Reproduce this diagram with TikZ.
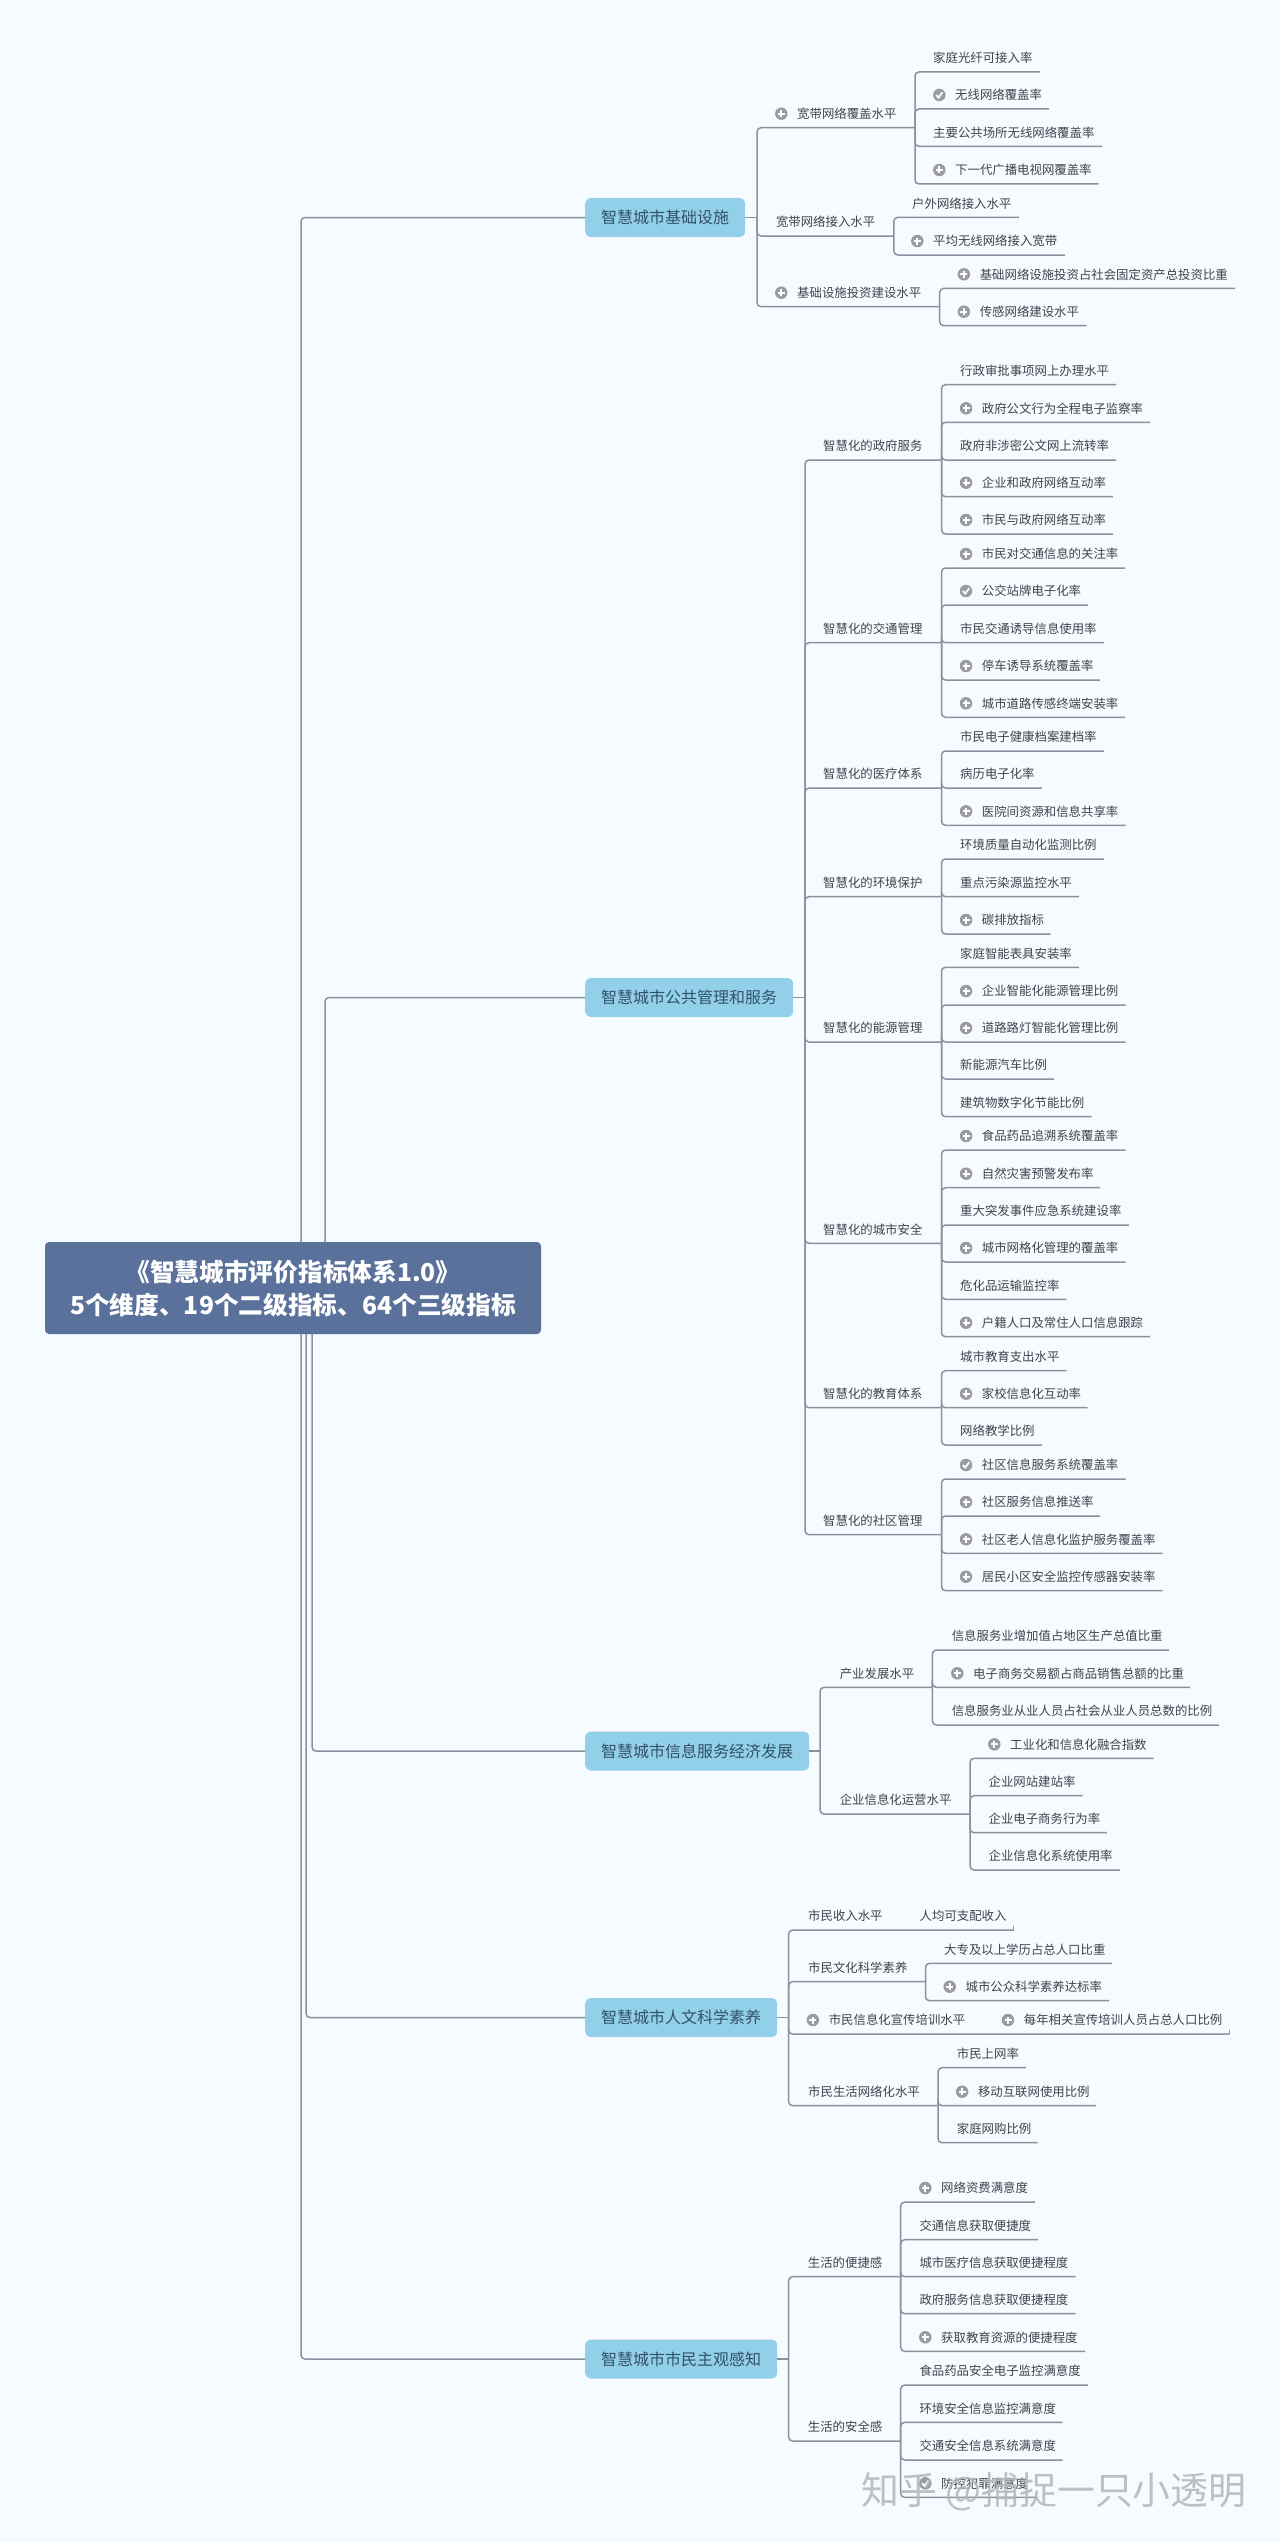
\documentclass[tikz,border=0pt]{standalone}
\usepackage{fontspec}
\setmainfont{Noto Sans CJK SC}
\usepackage{xcolor}
\definecolor{pagecolor}{RGB}{245,251,255}
\definecolor{linecolor}{RGB}{138,146,160}
\definecolor{rootcolor}{RGB}{90,114,155}
\definecolor{topiccolor}{RGB}{146,207,232}
\definecolor{topictext}{RGB}{50,82,105}
\definecolor{itemtext}{RGB}{62,68,76}
\definecolor{iconcolor}{RGB}{155,155,160}
\definecolor{stampcolor}{RGB}{178,182,187}
\tikzset{
  rootbox/.style = {fill=rootcolor, rounded corners=4pt, minimum width=496pt, minimum height=92pt,
                    text=white, align=center, font=\fontsize{24.7}{33}\selectfont\bfseries, inner sep=0pt},
  topic/.style   = {fill=topiccolor, rounded corners=6pt, minimum height=39pt, inner xsep=16pt,
                    inner ysep=0pt, anchor=west, text=topictext, font=\fontsize{16}{18}\selectfont},
  item/.style    = {anchor=west, inner sep=0pt, text=itemtext, font=\fontsize{12.4}{14}\selectfont},
  link/.style    = {draw=linecolor, line width=1.5pt, rounded corners=4pt},
  noic/.style    = {shape=coordinate},
  plusic/.style  = {circle, fill=iconcolor, minimum size=12.5pt, inner sep=0pt, path picture={
                    \draw[white, line width=2pt] (path picture bounding box.center) ++(-3.5pt,0) -- ++(7pt,0)
                    (path picture bounding box.center) ++(0,-3.5pt) -- ++(0,7pt);}},
  checkic/.style = {circle, fill=iconcolor, minimum size=12.5pt, inner sep=0pt, path picture={
                    \draw[white, line width=1.8pt] (path picture bounding box.center) ++(-3.2pt,0) -- ++(2.4pt,-2.6pt) -- ++(4pt,5.4pt);}},
  stamp/.style   = {anchor=west, inner sep=0pt, text=stampcolor, opacity=.85, font=\fontsize{37.9}{40}\selectfont},
}
\begin{document}
\begin{tikzpicture}[x=1pt, y=-1pt]
  \useasboundingbox[fill=pagecolor] (0,0) rectangle (1280,2542);
  \foreach \n/\x/\y/\xb/\lab in {
    t1/301/217.5/757/智慧城市基础设施,
    t2/325/997.5/805/智慧城市公共管理和服务,
    t3/312/1751/820/智慧城市信息服务经济发展,
    t4/306/2017.5/788.6/智慧城市人文科学素养,
    t5/301/2359/788.6/智慧城市市民主观感知} {
    \node[topic] (\n) at (585,\y) {\lab};
    \coordinate (\n-o) at (\x,1288);
    \coordinate (\n-e) at (\xb,\y);
    \draw[link] (\n-o) |- (\n.west);
    \draw[link] (\n.east) -- (\n-e);
  }
  % parent/name/y of line/end of line/text x/icon/text
  \foreach \p/\n/\y/\xe/\xt/\ic/\lab in {
    t1/a1/127.7/915/797/plusic/宽带网络覆盖水平,
    t1/a2/236/893.8/775.8/noic/宽带网络接入水平,
    t1/a3/306.7/939.7/797/plusic/基础设施投资建设水平,
    a1/a11/72/1040/933/noic/家庭光纤可接入率,
    a1/a12/109/1049/955/checkic/无线网络覆盖率,
    a1/a13/146.3/1102/933/noic/主要公共场所无线网络覆盖率,
    a1/a14/184/1098.5/955/plusic/下一代广播电视网覆盖率,
    a2/a21/217.3/1019/912/noic/户外网络接入水平,
    a2/a22/255/1065/933/plusic/平均无线网络接入宽带,
    a3/a31/288.3/1235/979.6/plusic/基础网络设施投资占社会固定资产总投资比重,
    a3/a32/325.7/1086.6/979.6/plusic/传感网络建设水平,
    t2/b1/460/941.5/823/noic/智慧化的政府服务,
    t2/b2/642.7/941.5/823/noic/智慧化的交通管理,
    t2/b3/788/941.5/823/noic/智慧化的医疗体系,
    t2/b4/896.7/941.5/823/noic/智慧化的环境保护,
    t2/b5/1042/941.5/823/noic/智慧化的能源管理,
    t2/b6/1243.3/941.5/823/noic/智慧化的城市安全,
    t2/b7/1407.7/941.5/823/noic/智慧化的教育体系,
    t2/b8/1534.7/941.5/823/noic/智慧化的社区管理,
    b1/b11/384.7/1116/960/noic/行政审批事项网上办理水平,
    b1/b12/422.3/1150/981.7/plusic/政府公文行为全程电子监察率,
    b1/b13/460/1116/960/noic/政府非涉密公文网上流转率,
    b1/b14/496.7/1113/981.7/plusic/企业和政府网络互动率,
    b1/b15/534/1113/981.7/plusic/市民与政府网络互动率,
    b2/b21/568/1125/981.7/plusic/市民对交通信息的关注率,
    b2/b22/605/1088/981.7/checkic/公交站牌电子化率,
    b2/b23/642.7/1104/960/noic/市民交通诱导信息使用率,
    b2/b24/680/1100/981.7/plusic/停车诱导系统覆盖率,
    b2/b25/717.3/1125/981.7/plusic/城市道路传感终端安装率,
    b3/b31/751/1104/960/noic/市民电子健康档案建档率,
    b3/b32/788/1042/960/noic/病历电子化率,
    b3/b33/825.3/1125.7/981.7/plusic/医院间资源和信息共享率,
    b4/b41/859/1104/960/noic/环境质量自动化监测比例,
    b4/b42/896.7/1079/960/noic/重点污染源监控水平,
    b4/b43/934/1050.7/981.7/plusic/碳排放指标,
    b5/b51/967.3/1079/960/noic/家庭智能表具安装率,
    b5/b52/1005/1125.7/981.7/plusic/企业智能化能源管理比例,
    b5/b53/1042/1125.7/981.7/plusic/道路路灯智能化管理比例,
    b5/b54/1079/1054/960/noic/新能源汽车比例,
    b5/b55/1116.7/1091.7/960/noic/建筑物数字化节能比例,
    b6/b61/1150/1125.7/981.7/plusic/食品药品追溯系统覆盖率,
    b6/b62/1187.7/1100/981.7/plusic/自然灾害预警发布率,
    b6/b63/1225/1129/960/noic/重大突发事件应急系统建设率,
    b6/b64/1262/1125.7/981.7/plusic/城市网格化管理的覆盖率,
    b6/b65/1299.3/1066.7/960/noic/危化品运输监控率,
    b6/b66/1336.7/1150/981.7/plusic/户籍人口及常住人口信息跟踪,
    b7/b71/1370.7/1066.7/960/noic/城市教育支出水平,
    b7/b72/1407.7/1087.7/981.7/plusic/家校信息化互动率,
    b7/b73/1445/1042/960/noic/网络教学比例,
    b8/b81/1479/1125.7/981.7/checkic/社区信息服务系统覆盖率,
    b8/b82/1516/1100/981.7/plusic/社区服务信息推送率,
    b8/b83/1553.3/1162.7/981.7/plusic/社区老人信息化监护服务覆盖率,
    b8/b84/1590.7/1162.7/981.7/plusic/居民小区安全监控传感器安装率,
    t3/c1/1687.3/932.4/839.6/noic/产业发展水平,
    t3/c2/1814/970/839.6/noic/企业信息化运营水平,
    c1/c11/1650/1169/951.6/noic/信息服务业增加值占地区生产总值比重,
    c1/c12/1687.3/1190/973/plusic/电子商务交易额占商品销售总额的比重,
    c1/c13/1725/1219/951.6/noic/信息服务业从业人员占社会从业人员总数的比例,
    c2/c21/1758.3/1153.7/1010/plusic/工业化和信息化融合指数,
    c2/c22/1795.7/1082.5/988.4/noic/企业网站建站率,
    c2/c23/1832.7/1107/988.4/noic/企业电子商务行为率,
    c2/c24/1870/1120/988.4/noic/企业信息化系统使用率,
    t4/d1/1930/1013.6/808/noic/市民收入水平,
    t4/d2/1981.7/925.5/808/noic/市民文化科学素养,
    t4/d3/2034/1229.4/828.6/plusic/市民信息化宣传培训水平,
    t4/d4/2105.7/938/808/noic/市民生活网络化水平,
    d1/d11/1930/1013.6/919.5/noic/人均可支配收入,
    d2/d21/1963.3/1112/944/noic/大专及以上学历占总人口比重,
    d2/d22/2000.7/1109/965.4/plusic/城市公众科学素养达标率,
    d3/d31/2034/1229.4/1023.7/plusic/每年相关宣传培训人员占总人口比例,
    d4/d41/2067.7/1026/956.7/noic/市民上网率,
    d4/d42/2105.7/1096/977.8/plusic/移动互联网使用比例,
    d4/d43/2142.7/1037.5/956.7/noic/家庭网购比例,
    t5/e1/2276.7/900.7/807.7/noic/生活的便捷感,
    t5/e2/2441/900.7/807.7/noic/生活的安全感,
    e1/e11/2202/1035/941/plusic/网络资费满意度,
    e1/e12/2239.7/1038/919.3/noic/交通信息获取便捷度,
    e1/e13/2276.7/1075.7/919.3/noic/城市医疗信息获取便捷程度,
    e1/e14/2313.7/1075.7/919.3/noic/政府服务信息获取便捷程度,
    e1/e15/2351.3/1085/941/plusic/获取教育资源的便捷程度,
    e2/e21/2385/1088/919.3/noic/食品药品安全电子监控满意度,
    e2/e22/2422.3/1062.7/919.3/noic/环境安全信息监控满意度,
    e2/e23/2460/1062.7/919.3/noic/交通安全信息系统满意度,
    e2/e24/2497.3/1037.5/941/checkic/防控犯罪满意度} {
    \coordinate (\n-e) at (\xe,\y);
    \draw[link] (\p-e) |- (\n-e);
    \node[\ic] (\n-i) at (\xt-15.7,\y-14) {};
    \node[item] (\n) at (\xt,\y-14) {\lab};
  }
  \node[rootbox] (root) at (293,1288) {《智慧城市评价指标体系1.0》\\5个维度、19个二级指标、64个三级指标};
  \node[stamp] (stamp) at (861,2492) {知乎 @捕捉一只小透明};
\end{tikzpicture}
\end{document}
